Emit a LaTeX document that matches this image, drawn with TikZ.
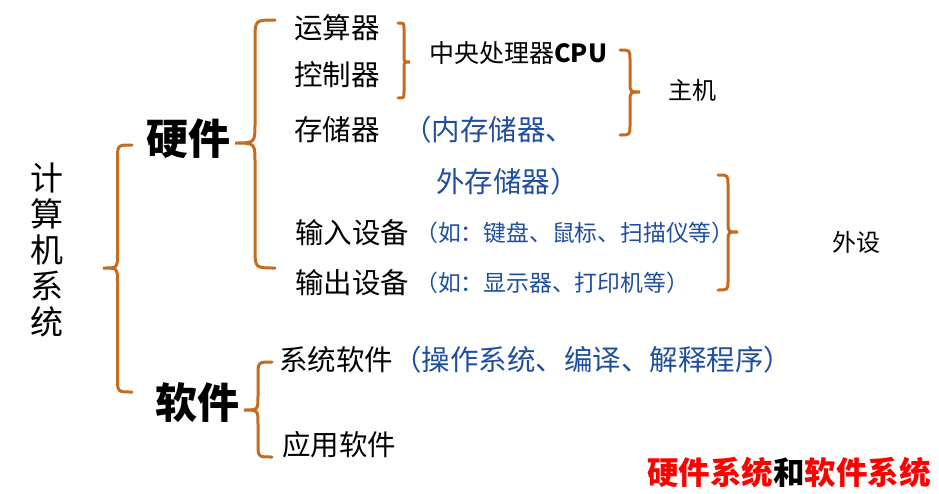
\documentclass[tikz,border=0pt]{standalone}
\usepackage{fontspec}
\setmainfont{Noto Sans CJK SC}
\definecolor{brc}{RGB}{197,106,30}
\definecolor{bl}{RGB}{31,78,160}
\definecolor{rd}{RGB}{255,0,0}
\tikzset{
  brcline/.style={draw=brc,line width=3pt,line cap=round},
  txt/.style={inner sep=0pt,anchor=west,font=\fontsize{28.5}{32}\selectfont},
  bluetxt/.style={txt,text=bl},
  smalltxt/.style={inner sep=0pt,anchor=west,text=bl,font=\fontsize{22.8}{26}\selectfont},
  bigtxt/.style={inner sep=0pt,font=\fontsize{42}{46}\selectfont\bfseries}
}
% #1 end x, #2 tip x, #3 top y, #4 tip y, #5 bottom y
\newcommand\Brc[5]{%
  \pgfmathsetmacro\bxm{(#1+#2)/2}%
  \pgfmathsetmacro\brr{abs(#1-#2)/2}%
  \draw[brcline] (#1,#3) .. controls (\bxm,#3) .. (\bxm,#3+\brr)
    -- (\bxm,#4-\brr) .. controls (\bxm,#4) .. (#2,#4)
    .. controls (\bxm,#4) .. (\bxm,#4+\brr)
    -- (\bxm,#5-\brr) .. controls (\bxm,#5) .. (#1,#5);}
\begin{document}
\begin{tikzpicture}[x=1pt,y=-1pt]
\useasboundingbox (0,0) rectangle (939,493);
% braces
\Brc{132}{103}{145}{268}{392}
\Brc{275}{235}{20}{143}{268}
\Brc{272}{244}{362}{410}{457}
\Brc{398}{410}{23}{62}{98}
\Brc{620}{640}{50}{92}{135}
\Brc{718}{738}{175}{232}{290}
% texts
\node[inner sep=0pt,align=center,font=\fontsize{33}{36}\selectfont] (sys) at (47,250) {计\\算\\机\\系\\统};
\node[bigtxt] (hw) at (188,139) {硬件};
\node[bigtxt] (sw) at (197,403) {软件};
\node[txt] (alu) at (294,28) {运算器};
\node[txt] (ctl) at (294,75) {控制器};
\node[txt] (mem) at (294,130) {存储器};
\node[bluetxt] (mem1) at (403,130) {（内存储器、};
\node[bluetxt] (mem2) at (436,182) {外存储器）};
\node[inner sep=0pt,anchor=west,font=\fontsize{25}{28}\selectfont] (cpu) at (429,53) {中央处理器\textbf{CPU}};
\node[inner sep=0pt,anchor=west,font=\fontsize{24}{28}\selectfont] (host) at (668,90) {主机};
\node[txt] (in) at (295,233) {输入设备};
\node[smalltxt] (inx) at (415,233) {（如：键盘、鼠标、扫描仪等）};
\node[txt] (out) at (295,283) {输出设备};
\node[smalltxt] (outx) at (415,283) {（如：显示器、打印机等）};
\node[inner sep=0pt,anchor=west,font=\fontsize{24}{28}\selectfont] (per) at (832,242) {外设};
\node[inner sep=0pt,anchor=west,font=\fontsize{28.5}{32}\selectfont] (sysw) at (279,360) {系统软件\textcolor{bl}{（操作系统、编译、解释程序）}};
\node[txt] (app) at (282,445) {应用软件};
\node[inner sep=0pt,font=\fontsize{31.5}{34}\selectfont\bfseries] (bot) at (789,472) {\textcolor{rd}{硬件系统}和\textcolor{rd}{软件系统}};
\end{tikzpicture}
\end{document}
